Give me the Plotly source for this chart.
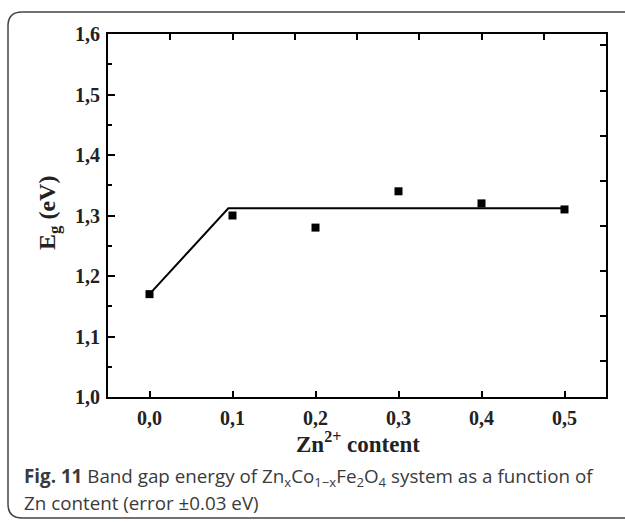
import plotly.graph_objects as go

# Data
zn_content = [0.0, 0.1, 0.2, 0.3, 0.4, 0.5]
band_gap = [1.17, 1.30, 1.28, 1.34, 1.32, 1.31]
fit_x = [0.0, 0.095, 0.5]
fit_y = [1.17, 1.312, 1.312]

x_ticks = [0.0, 0.1, 0.2, 0.3, 0.4, 0.5]
x_ticklabels = ["0,0", "0,1", "0,2", "0,3", "0,4", "0,5"]
y_ticks = [1.0, 1.1, 1.2, 1.3, 1.4, 1.5, 1.6]
y_ticklabels = ["1,0", "1,1", "1,2", "1,3", "1,4", "1,5", "1,6"]
top_ticks = [0.025, 0.1, 0.175, 0.25, 0.325, 0.4, 0.475]
right_ticks = [1.06, 1.134, 1.208, 1.283, 1.357, 1.431, 1.506, 1.582]

W, H = 625, 522
L, R, T, B = 108, 19, 34, 125

serif = "Liberation Serif, Times New Roman, serif"
sans = "Open Sans, Noto Sans, sans-serif"

fig = go.Figure()
fig.add_trace(go.Scatter(x=fit_x, y=fit_y, mode="lines",
                         line=dict(color="black", width=2), showlegend=False))
fig.add_trace(go.Scatter(x=zn_content, y=band_gap, mode="markers",
                         marker=dict(symbol="square", size=8, color="black"),
                         showlegend=False))
fig.add_trace(go.Scatter(x=[None], y=[None], xaxis="x2", yaxis="y2", showlegend=False))

fig.update_layout(
    width=W, height=H,
    margin=dict(l=L, r=R, t=T, b=B),
    paper_bgcolor="white", plot_bgcolor="white",
    xaxis=dict(range=[-0.05, 0.55], tickvals=x_ticks,
               ticktext=["<b>%s</b>" % t for t in x_ticklabels],
               ticks="inside", ticklen=6, tickwidth=2, tickcolor="black",
               ticklabelstandoff=2,
               showline=True, linewidth=2, linecolor="black", mirror=True,
               showgrid=False, zeroline=False,
               tickfont=dict(family=serif, size=20, color="#222")),
    yaxis=dict(range=[1.0, 1.6], tickvals=y_ticks,
               ticktext=["<b>%s</b>" % t for t in y_ticklabels],
               ticks="inside", ticklen=7, tickwidth=2, tickcolor="black",
               ticklabelstandoff=2,
               minor=dict(tickvals=[1.05, 1.15, 1.25, 1.35, 1.45, 1.55],
                          ticks="inside", ticklen=4, tickwidth=2, tickcolor="black"),
               showline=True, linewidth=2, linecolor="black", mirror=True,
               showgrid=False, zeroline=False,
               tickfont=dict(family=serif, size=20, color="#222")),
    xaxis2=dict(range=[-0.05, 0.55], overlaying="x", side="top",
                tickvals=top_ticks, showticklabels=False,
                ticks="inside", ticklen=6, tickwidth=2, tickcolor="black",
                showgrid=False, zeroline=False, showline=False),
    yaxis2=dict(range=[1.0, 1.6], overlaying="y", side="right",
                tickvals=right_ticks, showticklabels=False,
                ticks="inside", ticklen=6, tickwidth=2, tickcolor="black",
                showgrid=False, zeroline=False, showline=False),
)

plot_w = W - L - R
plot_h = H - T - B

def px_x(p):
    return (p - L) / plot_w

def px_y(p):
    return (H - B - p) / plot_h

annotations = [
    dict(text="<b>E<sub>g</sub> (eV)</b>", x=px_x(49), y=px_y(213), xref="paper", yref="paper",
         showarrow=False, textangle=-90, font=dict(family=serif, size=24, color="#222"),
         xanchor="center", yanchor="middle"),
    dict(text="<b>Zn<sup>2+</sup> content</b>", x=px_x(358), y=px_y(442), xref="paper", yref="paper",
         showarrow=False, font=dict(family=serif, size=23, color="#222"),
         xanchor="center", yanchor="middle"),
    dict(text="<b>Fig. 11</b> Band gap energy of Zn<sub>x</sub>Co<sub>1−x</sub>Fe<sub>2</sub>O<sub>4</sub> system as a function of",
         x=px_x(22), y=px_y(477), xref="paper", yref="paper", showarrow=False,
         font=dict(family=sans, size=18.8, color="#3a3a3a"), xanchor="left", yanchor="middle"),
    dict(text="Zn content (error ±0.03 eV)",
         x=px_x(22), y=px_y(503), xref="paper", yref="paper", showarrow=False,
         font=dict(family=sans, size=18.8, color="#3a3a3a"), xanchor="left", yanchor="middle"),
]
fig.update_layout(annotations=annotations)

# rounded frame around figure + caption
r = 14
x0, y0, x1, y1 = px_x(8), px_y(12), px_x(640), px_y(518)
rx = r / plot_w
ry = r / plot_h
path = (f"M {x1},{y0} L {x0+rx},{y0} Q {x0},{y0} {x0},{y0-ry} "
        f"L {x0},{y1+ry} Q {x0},{y1} {x0+rx},{y1} L {x1},{y1}")
fig.add_shape(type="path", path=path, xref="paper", yref="paper",
              line=dict(color="#444", width=1.5))

fig.write_html("out.html")
